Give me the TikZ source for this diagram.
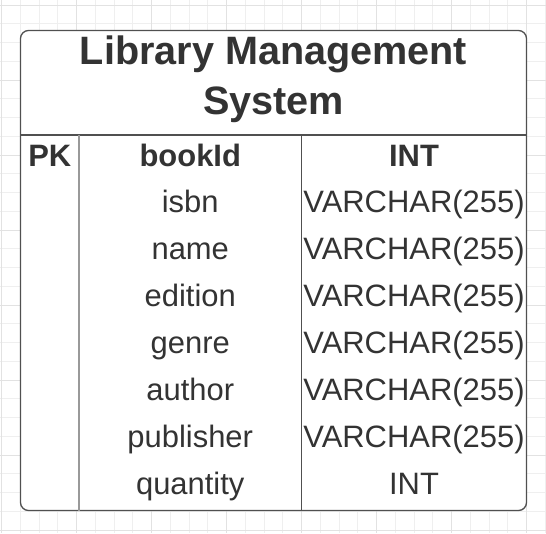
\documentclass[tikz,border=0pt]{standalone}
\usepackage{fontspec}
\setmainfont{Liberation Sans}

\definecolor{gridminor}{HTML}{EFEFEF}
\definecolor{gridmajor}{HTML}{E2E2E2}
\definecolor{frame}{HTML}{505050}
\definecolor{pkline}{HTML}{999999}
\definecolor{ink}{HTML}{333333}

\begin{document}
\begin{tikzpicture}[x=0.75pt,y=-0.75pt,
  titletext/.style={text=ink,font=\fontsize{29.7}{36}\selectfont\bfseries,inner sep=0pt,anchor=base},
  cell/.style={text=ink,font=\fontsize{23.2}{28}\selectfont,inner sep=0pt,anchor=base},
  headcell/.style={cell,font=\fontsize{23.2}{28}\selectfont\bfseries}]

  \useasboundingbox (0,0) rectangle (546,533);
  \fill[white] (0,0) rectangle (546,533);

  % Background grid
  \foreach \x in {1.6,20.35,...,546}
    \draw[gridminor,line width=0.75pt] (\x,0) -- (\x,533);
  \foreach \y in {5,23.75,...,533}
    \draw[gridminor,line width=0.75pt] (0,\y) -- (546,\y);
  \foreach \x in {1.6,76.6,...,546}
    \draw[gridmajor,line width=0.75pt] (\x,0) -- (\x,533);
  \foreach \y in {5,80,...,533}
    \draw[gridmajor,line width=0.75pt] (0,\y) -- (546,\y);

  % Table frame
  \fill[white,rounded corners=6pt] (20.5,30.5) rectangle (526.5,510.5);
  \draw[frame,line width=1pt,rounded corners=6pt] (20.5,30.5) rectangle (526.5,510.5);
  \draw[frame,line width=1pt] (20.5,135) -- (526.5,135);

  % Column dividers
  \draw[pkline,line width=1.1pt] (79,135) -- (79,510.5);
  \draw[frame,line width=1pt] (301.5,135) -- (301.5,510.5);

  % Title
  \node[titletext] (title) at (273.5,64) {Library Management};
  \node[titletext] (titlecont) at (273.5,114) {System};

  % Key row
  \node[headcell] (pk) at (49.75,166) {PK};
  \node[headcell] (bookid) at (190.25,166) {bookId};
  \node[headcell] (bookid-type) at (414,166) {INT};

  % Other fields
  \foreach \field/\type [count=\i] in {isbn/{VARCHAR(255)},name/{VARCHAR(255)},
      edition/{VARCHAR(255)},genre/{VARCHAR(255)},author/{VARCHAR(255)},
      publisher/{VARCHAR(255)},quantity/INT} {
    \node[cell] (\field) at (190.25,166+\i*46.875) {\field};
    \node[cell] (\field-type) at (414,166+\i*46.875) {\type};
  }

\end{tikzpicture}
\end{document}
